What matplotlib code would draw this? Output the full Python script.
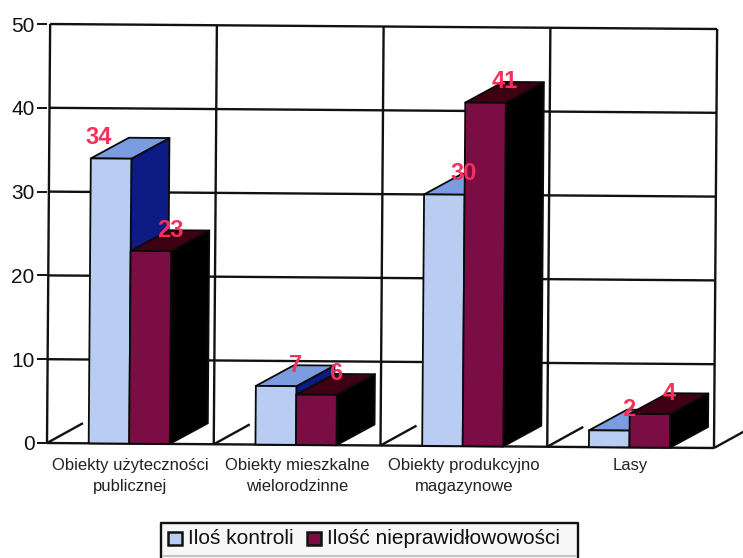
import matplotlib
matplotlib.use('Agg')
import matplotlib.pyplot as plt
from matplotlib.lines import Line2D
from matplotlib.patches import Polygon, Rectangle
from matplotlib.transforms import Affine2D

categories = ['Obiekty użyteczności\npublicznej', 'Obiekty mieszkalne\nwielorodzinne',
              'Obiekty produkcyjno\nmagazynowe', 'Lasy']
kontrole = [34, 7, 30, 2]
nieprawidlowosci = [23, 6, 41, 4]
yticks = [0, 10, 20, 30, 40, 50]

plt.rcParams['font.family'] = ['Liberation Sans', 'DejaVu Sans']

fig = plt.figure(figsize=(7.43, 5.58), dpi=100)
ax = fig.add_axes([47 / 743, 115 / 558, 667 / 743, 419 / 558])
ax.set_xlim(0, 4)
ax.set_ylim(0, 50)
for s in ax.spines.values():
    s.set_visible(False)

# the scan is slightly rotated
tr = ax.transData + Affine2D().rotate_deg_around(47, 115, -0.43)

dx = 0.2275   # depth of the bars in category units
dy = 2.5      # depth in value units
w = 0.243
off = 0.25
LW = 1.7


def line(xs, ys, lw=LW, z=1):
    ax.plot(xs, ys, color='#111111', lw=lw, transform=tr, clip_on=False, zorder=z,
            solid_capstyle='butt')


def face(pts, col, z):
    ax.add_patch(Polygon(pts, closed=True, fc=col, ec='#0a0a0a', lw=1.3, transform=tr,
                         clip_on=False, zorder=z, joinstyle='round'))


def bar3d(x, h, front, top, side, z):
    face([(x + w, 0), (x + w + dx, dy), (x + w + dx, h + dy), (x + w, h)], side, z)
    face([(x, h), (x + dx, h + dy), (x + w + dx, h + dy), (x + w, h)], top, z)
    face([(x, 0), (x + w, 0), (x + w, h), (x, h)], front, z)


for v in yticks:
    line([0, 4], [v, v])
for i in range(5):
    line([i, i], [0, 50])
    line([i, i + 0.215], [0, 2.4])

for i in range(4):
    x0 = i + off
    bar3d(x0, kontrole[i], '#B9CDF2', '#7C9CE2', '#0D1B85', 3 + i)
    bar3d(x0 + w, nieprawidlowosci[i], '#7B0D45', '#3E0012', '#000000', 3.5 + i)

labels = dict(color='#F5305C', fontsize=17, fontweight='bold', ha='center', va='center',
              transform=tr, zorder=10, clip_on=False)
for i in range(4):
    x0 = i + off
    lx = x0 + w / 2 + dx / 2
    # first label was moved by hand in the original
    if i == 0:
        lx = lx - 0.19
    ax.text(lx, kontrole[i] + dy, str(kontrole[i]), **labels)
    ax.text(x0 + w + w / 2 + dx / 2, nieprawidlowosci[i] + dy, str(nieprawidlowosci[i]), **labels)

ax.set_xticks([i + 0.5 for i in range(4)])
ax.set_xticklabels(categories, fontsize=12, color='#222222', linespacing=1.5)
ax.set_yticks(yticks)
ax.set_yticklabels([str(v) for v in yticks], fontsize=15, color='#111111')
ax.tick_params(axis='x', length=0, pad=10.5)
ax.tick_params(axis='y', length=7, width=1.4, pad=2, color='#111111')

# legend box, drawn in figure pixels
px = Affine2D().scale(1 / 743, 1 / 558) + fig.transFigure
fig.add_artist(Rectangle((161, 0), 417, 35, fc='#F7F7F7', ec='none', transform=px))
fig.add_artist(Line2D([161, 161, 578, 578], [0, 35, 35, 0], color='#111111', lw=1.7, transform=px))
fig.add_artist(Line2D([163, 576], [2, 2], color='#BBBBBB', lw=1.2, transform=px))
fig.add_artist(Rectangle((168, 13), 14, 13, fc='#B9CDF2', ec='#111111', lw=1.8, transform=px))
fig.add_artist(Rectangle((307, 13), 14, 13, fc='#7B0D45', ec='#111111', lw=1.8, transform=px))
fig.text(188, 19, 'Iloś kontroli', transform=px, fontsize=15, color='#111111', va='center')
fig.text(327, 19, 'Ilość nieprawidłowowości', transform=px, fontsize=15, color='#111111', va='center')

fig.savefig('out.png', dpi=100)
